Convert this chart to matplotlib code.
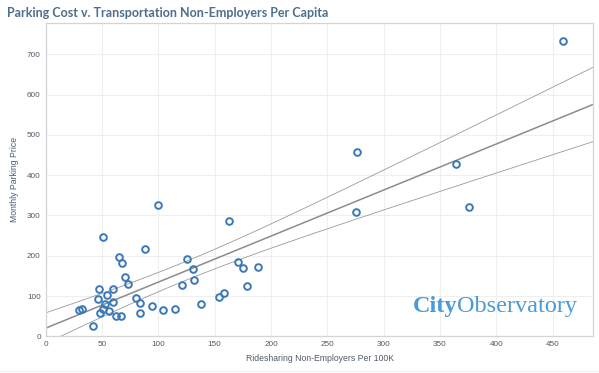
import numpy as np
import matplotlib.pyplot as plt
from matplotlib.lines import Line2D

# Ridesharing non-employers per 100K vs monthly parking price
rideshare = [459, 276, 364, 275, 376, 100, 163, 51, 88, 65, 68, 125, 171, 175.5,
             188.5, 131, 70, 73, 132, 121, 179, 47, 60, 54, 46, 80, 59.5, 53, 84,
             29.5, 32, 51, 56, 48, 62, 67, 84, 42, 158, 154, 94, 138, 104, 115]
parking = [732, 458, 428, 309, 320, 326, 287, 246, 217, 198, 181, 191, 185, 170,
           173, 167, 146, 131, 140, 127, 125, 117, 118, 103, 93, 95, 85, 79, 82,
           65, 68.5, 67, 63.5, 59, 50, 50, 59, 25.5, 108, 97, 75, 80, 65, 67]

x_ticks = [0, 50, 100, 150, 200, 250, 300, 350, 400, 450]
y_ticks = [0, 100, 200, 300, 400, 500, 600, 700]

x = np.array(rideshare, dtype=float)
y = np.array(parking, dtype=float)

# linear trend with 95% confidence band for the mean
slope, intercept = np.polyfit(x, y, 1)
n = len(x)
resid = y - (slope * x + intercept)
s = np.sqrt(np.sum(resid ** 2) / (n - 2))
sxx = np.sum((x - x.mean()) ** 2)
t_crit = 2.018
xs = np.linspace(0, 490, 200)
fit = slope * xs + intercept
half = t_crit * s * np.sqrt(1 / n + (xs - x.mean()) ** 2 / sxx)

fig = plt.figure(figsize=(5.99, 3.73), dpi=100)
ax = fig.add_axes([0.0763, 0.0984, 0.9142, 0.8391])

ax.plot(xs, fit, color='#8c8c8c', lw=1.1, zorder=2)
ax.plot(xs, fit + half, color='#9a9a9a', lw=0.6, zorder=2)
ax.plot(xs, fit - half, color='#9a9a9a', lw=0.6, zorder=2)
ax.plot(x, y, 'o', ms=4.8, mfc='none', mec='#3b79b6', mew=1.4, zorder=3)

ax.set_xlim(0, 486)
ax.set_ylim(0, 777)
ax.set_xticks(x_ticks)
ax.set_yticks(y_ticks)
ax.grid(True, color='#efefef', lw=0.8)
ax.set_axisbelow(True)
ax.tick_params(length=0, labelsize=5.9, labelcolor='#505a68', pad=3.5)
for lab in ax.get_xticklabels() + ax.get_yticklabels():
    lab.set_family('Liberation Sans')
for sp in ax.spines.values():
    sp.set_color('#d4d4d4')
    sp.set_linewidth(0.9)

ax.set_xlabel('Ridesharing Non-Employers Per 100K', fontsize=6.2,
              family='Liberation Sans', color='#505a68', labelpad=4)
ax.set_ylabel('Monthly Parking Price', fontsize=6.2,
              family='Liberation Sans', color='#4a5a78', labelpad=5.5)

fig.text(0.0112, 0.966, 'Parking Cost v. Transportation Non-Employers Per Capita',
         fontsize=9, fontweight='bold', family='Lato', color='#4d6e8c',
         va='center', ha='left')

# City Observatory logo
fig.text(457.3 / 599, 1 - 311.7 / 373, 'City', fontsize=17.5, fontweight='bold',
         family='Liberation Serif', color='#4a9bd8', ha='right', va='baseline')
fig.text(457.3 / 599, 1 - 311.7 / 373, 'Observatory', fontsize=17.5,
         family='Liberation Serif', color='#4a9bd8', ha='left', va='baseline')

fig.add_artist(Line2D([0, 1], [1 - 371 / 373] * 2, color='#efefef', lw=0.8))

fig.savefig('out.png', dpi=100)
